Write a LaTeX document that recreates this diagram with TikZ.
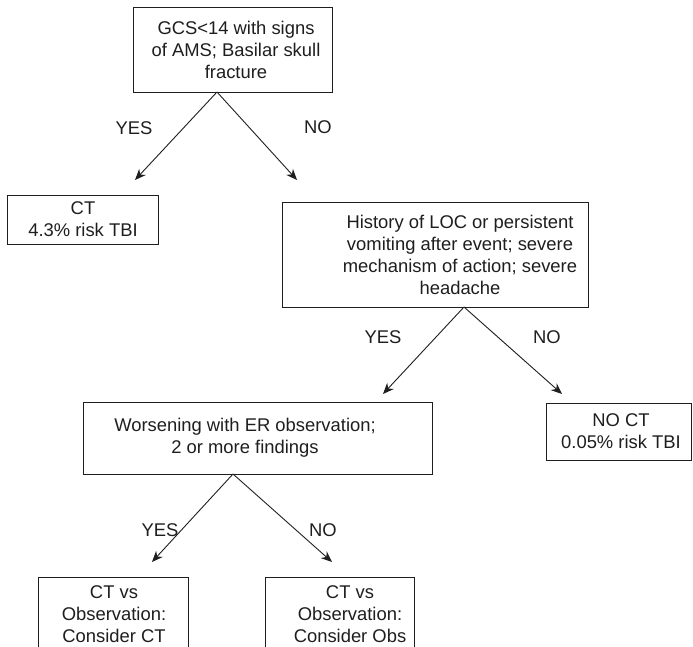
\documentclass[tikz,border=0pt]{standalone}
\usepackage{fontspec}
\setmainfont{Liberation Sans}
\usetikzlibrary{arrows.meta}
\definecolor{ink}{HTML}{1E1E1E}
\begin{document}
\begin{tikzpicture}[x=1pt,y=-1pt,
  box/.style={draw=ink,line width=1pt,rectangle,inner sep=0pt,anchor=north west},
  txt/.style={align=center,font=\fontsize{18.4}{22}\selectfont,text=ink,inner sep=0pt},
  lab/.style={font=\fontsize{18.4}{22}\selectfont,text=ink,inner sep=0pt},
  arr/.style={draw=ink,line width=0.9pt,-{Stealth[length=11pt,width=9pt,inset=3.5pt]}}]
\useasboundingbox (0,0) rectangle (693,647);
\clip (0,0) rectangle (693,647);

% boxes and texts
\node[box,minimum width=199pt,minimum height=85pt] (b1) at (133,7) {};
\node[txt] (t1) at (236,49.5) {GCS<14 with signs\\of AMS; Basilar skull\\fracture};

\node[box,minimum width=151pt,minimum height=49pt] (b2) at (7,195) {};
\node[txt] (t2) at (83,219.5) {CT\\4.3\% risk TBI};

\node[box,minimum width=306pt,minimum height=105pt] (b3) at (282,202) {};
\node[txt] (t3) at (460,254.5) {History of LOC or persistent\\vomiting after event; severe\\mechanism of action; severe\\headache};

\node[box,minimum width=145pt,minimum height=57pt] (b4) at (546,403) {};
\node[txt] (t4) at (621,431.5) {NO CT\\0.05\% risk TBI};

\node[box,minimum width=349pt,minimum height=72pt] (b5) at (83,402) {};
\node[txt] (t5) at (245,438) {Worsening with ER observation;\\2 or more findings};

\node[box,minimum width=150pt,minimum height=100pt] (b6) at (38,577) {};
\node[txt,anchor=north] (t6) at (114,585) {CT vs\\Observation:\\Consider CT};

\node[box,minimum width=149pt,minimum height=100pt] (b7) at (265,577) {};
\node[txt,anchor=north] (t7) at (350,585) {CT vs\\Observation:\\Consider Obs};

% branch points and arrow tips
\coordinate (a1) at (217,92);
\coordinate (a1y) at (135,180);
\coordinate (a1n) at (297,180);
\coordinate (a3) at (464,307);
\coordinate (a3y) at (383,394);
\coordinate (a3n) at (562,394);
\coordinate (a5) at (233,474);
\coordinate (a5y) at (152,562);
\coordinate (a5n) at (332,562);

\draw[arr] (a1) -- (a1y);
\draw[arr] (a1) -- (a1n);
\draw[arr] (a3) -- (a3y);
\draw[arr] (a3) -- (a3n);
\draw[arr] (a5) -- (a5y);
\draw[arr] (a5) -- (a5n);

% labels
\node[lab] (l1y) at (134,128) {YES};
\node[lab] (l1n) at (318,127) {NO};
\node[lab] (l3y) at (383,337) {YES};
\node[lab] (l3n) at (547,337) {NO};
\node[lab] (l5y) at (160,530) {YES};
\node[lab] (l5n) at (323,530) {NO};
\end{tikzpicture}
\end{document}
